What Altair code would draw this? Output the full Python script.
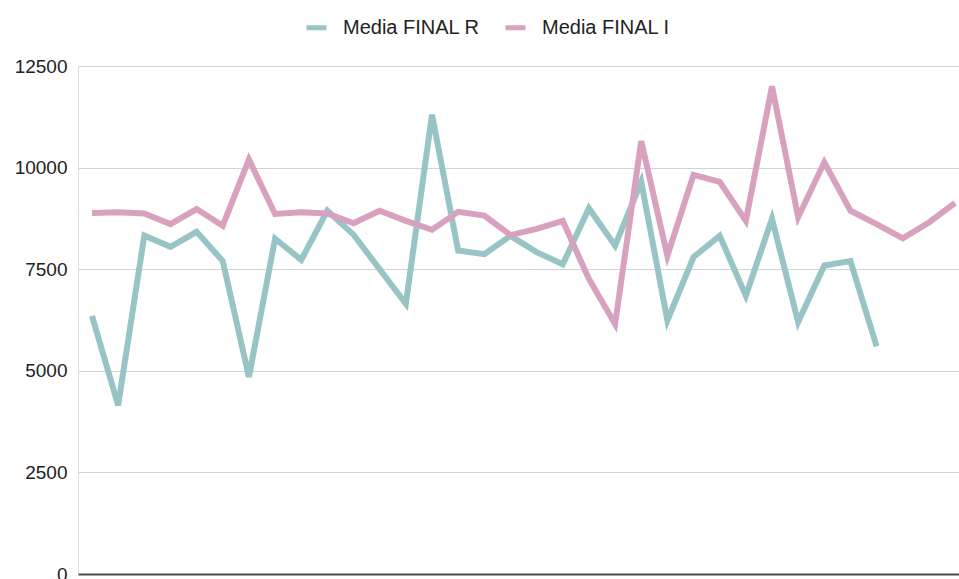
import altair as alt
import pandas as pd

# Series values per row (row index 0..33); R stops after row 30
media_final_r = [6350, 4150, 8330, 8050, 8420, 7700, 4850, 8250, 7730, 8940,
                 8350, 7500, 6650, 11300, 7960, 7870, 8320, 7920, 7620, 9000,
                 8080, 9650, 6240, 7800, 8320, 6850, 8740, 6200, 7590, 7700,
                 5600]
media_final_i = [8880, 8900, 8870, 8610, 8980, 8570, 10200, 8860, 8900, 8870,
                 8630, 8940, 8690, 8470, 8910, 8820, 8340, 8490, 8690, 7260,
                 6150, 10650, 7830, 9820, 9650, 8690, 12000, 8780, 10130, 8940,
                 8610, 8260, 8650, 9130]

series_names = ["Media FINAL R", "Media FINAL I"]
series_colors = ["#98c4c6", "#d8a1bf"]
y_ticks = [0, 2500, 5000, 7500, 10000, 12500]

rows = []
for name, values in zip(series_names, [media_final_r, media_final_i]):
    for i, v in enumerate(values):
        rows.append({"fila": i, "serie": name, "valor": v, "orden": series_names.index(name)})
df = pd.DataFrame(rows)

font = "Liberation Sans"

chart = (
    alt.Chart(df)
    .mark_line(strokeWidth=6, strokeJoin="miter")
    .encode(
        x=alt.X(
            "fila:Q",
            scale=alt.Scale(domain=[-0.535, 33.15], nice=False, zero=False),
            axis=alt.Axis(
                title=None, labels=False, ticks=False, grid=False,
                domain=True, domainColor="#4a4a4a", domainWidth=2,
            ),
        ),
        y=alt.Y(
            "valor:Q",
            scale=alt.Scale(domain=[0, 12500], nice=False),
            axis=alt.Axis(
                title=None, values=y_ticks, format="d", ticks=False, domain=False,
                grid=True, gridColor="#d3d3d3", gridWidth=1,
                labelFont=font, labelFontSize=19, labelColor="#222222",
                labelPadding=11,
            ),
        ),
        color=alt.Color(
            "serie:N",
            scale=alt.Scale(domain=series_names, range=series_colors),
            sort=series_names,
            legend=alt.Legend(
                title=None, orient="none", direction="horizontal",
                legendX=226, legendY=-51,
                symbolType="stroke", symbolSize=400, symbolStrokeWidth=5,
                labelFont=font, labelFontSize=20, labelColor="#222222",
                labelOffset=14, columnPadding=15,
            ),
        ),
        order=alt.Order("orden:Q"),
    )
    .properties(
        width=881,
        height=508,
        padding={"left": 78, "top": 66, "right": 0, "bottom": 5},
        autosize=alt.AutoSizeParams(type="none"),
    )
    .configure_view(stroke=None)
    .configure(background="white")
)

chart.save("out.html", embed_options={"renderer": "svg", "actions": False})
